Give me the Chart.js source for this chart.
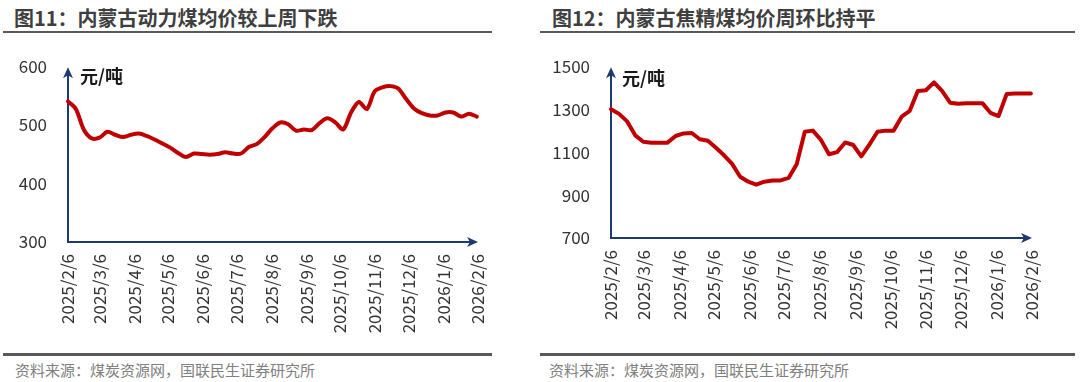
<!DOCTYPE html>
<html><head><meta charset="utf-8">
<script src="https://cdn.jsdelivr.net/npm/chart.js@4"></script>
<style>
html,body{margin:0;padding:0;background:#fff;}
body{width:1080px;height:382px;position:relative;overflow:hidden;font-family:"Noto Sans CJK SC",sans-serif;}
.title{position:absolute;top:5px;font-size:20px;font-weight:bold;color:#3f3f3f;white-space:nowrap;line-height:26px;}
.rule{position:absolute;height:2px;background:#595959;}
.src{position:absolute;top:360px;font-size:15px;color:#808080;white-space:nowrap;line-height:20px}
.wrap{position:absolute;top:35px;width:540px;height:315px;}
</style></head><body>
<div class="title" style="left:14px">图11：内蒙古动力煤均价较上周下跌</div>
<div class="title" style="left:552px">图12：内蒙古焦精煤均价周环比持平</div>
<div class="rule" style="left:3px;width:489px;top:31px"></div>
<div class="rule" style="left:540px;width:535px;top:31px"></div>
<div class="wrap" style="left:0"><canvas id="c1" width="540" height="315"></canvas></div>
<div class="wrap" style="left:540px"><canvas id="c2" width="540" height="315"></canvas></div>
<div class="rule" style="left:3px;width:489px;top:353px;height:3px"></div>
<div class="rule" style="left:540px;width:535px;top:353px;height:3px"></div>
<div class="src" style="left:15px">资料来源：煤炭资源网，国联民生证券研究所</div>
<div class="src" style="left:549px">资料来源：煤炭资源网，国联民生证券研究所</div>
<script>
// ---- data ----
const startDate = '2025-02-06';
// weekly observations (week index 0 = 2025/2/6)
const thermalCoalPrice = [540,527,492,477,478,488,483,479,483,485,481,475,468,461,452,445,451,450,449,450,453,451,451,462,467,479,494,504,501,490,492,491,503,511,504,492,521,539,527,557,564,566,562,544,528,520,516,516,521,521,514,519,514];
const cokingCoalPrice = [1300,1278,1243,1178,1148,1144,1144,1144,1175,1187,1189,1160,1153,1120,1085,1045,985,962,948,962,968,968,980,1043,1195,1200,1157,1090,1100,1145,1133,1080,1135,1195,1200,1200,1265,1292,1385,1388,1425,1385,1330,1325,1328,1328,1328,1283,1268,1370,1373,1373,1373];
const xTickLabels = ['2025/2/6','2025/3/6','2025/4/6','2025/5/6','2025/6/6','2025/7/6','2025/8/6','2025/9/6','2025/10/6','2025/11/6','2025/12/6','2026/1/6','2026/2/6'];
const unitLabel = '元/吨';

// ---- helpers ----
const DAY = 86400000;
const t0 = Date.UTC(2025,1,6);
function dayOf(label){const p=label.split('/').map(Number);return Math.round((Date.UTC(p[0],p[1]-1,p[2])-t0)/DAY);}
const xTickDays = xTickLabels.map(dayOf);
function weekPoints(vals){return vals.map((v,i)=>({x:i*7,y:v}));}

const AXIS = '#1c3a70';
function arrowPlugin(unitPos){
  return {
    id:'arrows',
    beforeDatasetsDraw(chart){
      const {ctx, chartArea:a} = chart;
      ctx.save();
      ctx.strokeStyle = AXIS; ctx.fillStyle = AXIS; ctx.lineWidth = 2;
      const yTip = a.top + 1;
      ctx.beginPath(); ctx.moveTo(a.left, a.bottom); ctx.lineTo(a.left, yTip + 6); ctx.stroke();
      ctx.beginPath(); ctx.moveTo(a.left, yTip); ctx.lineTo(a.left-5, yTip+11); ctx.lineTo(a.left, yTip+8); ctx.lineTo(a.left+5, yTip+11); ctx.closePath(); ctx.fill();
      const xTip = a.right;
      ctx.beginPath(); ctx.moveTo(a.left-1, a.bottom); ctx.lineTo(xTip-6, a.bottom); ctx.stroke();
      ctx.beginPath(); ctx.moveTo(xTip, a.bottom); ctx.lineTo(xTip-11, a.bottom-5); ctx.lineTo(xTip-8, a.bottom); ctx.lineTo(xTip-11, a.bottom+5); ctx.closePath(); ctx.fill();
      ctx.restore();
    },
    afterDraw(chart){
      const {ctx, chartArea:a} = chart;
      ctx.save();
      ctx.font = 'bold 18px "Noto Sans CJK SC"';
      ctx.fillStyle = '#1a1a1a';
      ctx.textBaseline = 'middle';
      ctx.fillText(unitLabel, a.left + unitPos.dx, a.top + unitPos.dy);
      ctx.restore();
    }
  };
}

function makeChart(id, vals, yMin, yMax, step, pad, xh, tension, unitPos){
  return new Chart(document.getElementById(id), {
    type:'line',
    data:{datasets:[{data:weekPoints(vals), borderColor:'#c00000', borderWidth:4, pointRadius:0, tension:tension, borderJoinStyle:'round', borderCapStyle:'round', fill:false, clip:false}]},
    options:{
      responsive:false, animation:false, devicePixelRatio:1,
      layout:{padding:{left:pad.left,right:pad.right,top:pad.top,bottom:pad.bottom}},
      plugins:{legend:{display:false}, tooltip:{enabled:false}},
      scales:{
        x:{type:'linear', min:0, max:365,
          afterBuildTicks(s){s.ticks = xTickDays.map(v=>({value:v}));},
          afterFit(s){s.height = xh;},
          grid:{display:false, drawTicks:false}, border:{display:false},
          ticks:{autoSkip:false, minRotation:90, maxRotation:90, padding:12, color:'#333', font:{family:'"Noto Sans CJK SC"', size:17},
            callback:(v,i)=>xTickLabels[i]}
        },
        y:{min:yMin, max:yMax,
          afterFit(s){s.width = pad.yw;},
          afterBuildTicks(s){const t=[];for(let v=yMin;v<=yMax;v+=step)t.push({value:v});s.ticks=t;},
          grid:{display:false, drawTicks:false}, border:{display:false},
          ticks:{padding:21, color:'#333', font:{family:'"Noto Sans CJK SC"', size:17}, callback:(v)=>String(v)}
        }
      }
    },
    plugins:[arrowPlugin(unitPos)]
  });
}

makeChart('c1', thermalCoalPrice, 300, 600, 100, {left:0,right:62,top:15,bottom:0,yw:68}, 108, 0.3, {dx:12, dy:10});
makeChart('c2', cokingCoalPrice, 700, 1500, 200, {left:0,right:48,top:25,bottom:0,yw:71}, 112, 0, {dx:11, dy:12});
</script>
</body></html>
